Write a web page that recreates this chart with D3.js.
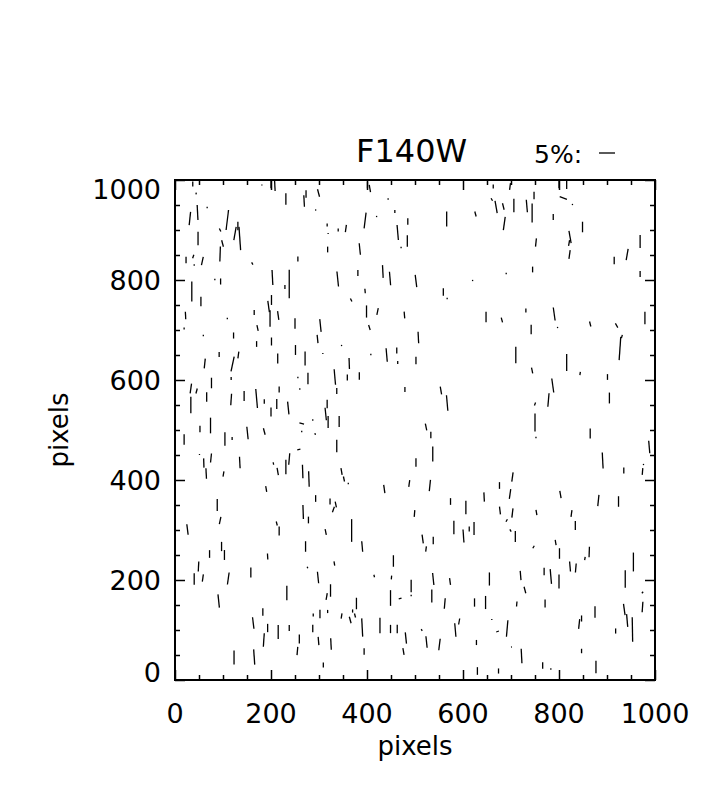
<html>
<head>
	<meta charset="utf-8">
	<title>F140W</title>
	<script src="https://cdn.jsdelivr.net/npm/d3@7/dist/d3.min.js"></script>
</head>
<style>
	body { margin: 0; background: #ffffff; }
	text { font-family: "DejaVu Sans", sans-serif; fill: black; }
	.frame { fill: none; stroke: black; stroke-width: 2; }
	.axis path { display: none; }
	.axis line { stroke: black; stroke-width: 1.5; }
	.vec { stroke: black; stroke-width: 1.3; stroke-linecap: butt; }
</style>
<body>
<script>
	// tick values / labels
	var xTickValues = [0, 200, 400, 600, 800, 1000];
	var yTickValues = [0, 200, 400, 600, 800, 1000];
	var minorTickValues = d3.range(0, 1001, 50);
	var titleText = "F140W";
	var legendText = "5%:";
	var legendPercent = 5;
	var xLabel = "pixels";
	var yLabel = "pixels";

	// vectors: [x pixel, y pixel, polarisation %, angle deg (+ = top leans right)]
	var vecTopLeft = [
		[37,992,1.6,0],[44,973,0.6,10],[181,990,0.3,0],[200,992,2.6,0],[208,989,3.4,-3],
		[231,962,3.6,0],[269,958,3.6,-3],[273,972,2.4,0],[299,974,2.4,-15],[401,990,2.1,0],
		[406,983,2.3,-10],[444,962,0.4,0],[31,923,4.2,6],[47,935,4.7,-3],[67,945,0.4,0],
		[109,920,6.3,7],[94,900,1.1,-25],[99,873,2.1,-15],[125,893,4.2,10],[131,908,2.6,0],
		[135,883,7.3,-4],[48,883,4.2,0],[94,852,4.7,2],[23,840,2.1,0],[38,847,1.1,20],
		[40,830,0.4,0],[57,838,2.7,12],[161,833,0.8,-30],[256,842,1.6,0],[293,940,0.4,0],
		[317,910,1.0,0],[319,893,0.3,0],[340,900,1.0,0],[356,903,2.3,8],[396,919,5.0,7],
		[420,927,0.4,0],[458,937,1.0,0],[464,895,4.7,-5],[485,917,2.1,0],[484,878,3.6,0],
		[471,865,0.4,0],[318,861,1.8,0],[385,862,3.6,-6],[203,805,4.7,-3],[238,792,8.9,0],
		[229,786,1.3,0],[83,801,0.4,0],[95,797,1.9,0],[35,777,6.3,0],[54,757,2.9,0],
		[339,802,4.7,-6],[381,814,1.9,0],[433,817,4.0,-3],[448,803,4.2,-5],[502,798,3.9,-7],
		[396,778,1.4,-5],[367,760,1.1,-25],[201,760,3.1,0],[195,747,3.5,-8],[198,723,5.2,0],
		[165,735,1.6,0],[215,729,2.8,-8],[250,713,3.3,0],[303,709,4.0,-6],[399,737,3.8,0],
		[422,737,2.1,12],[405,705,1.6,-18],[478,730,2.1,-5],[22,729,2.3,-3],[19,703,0.6,0],
		[109,723,0.4,0],[59,689,0.4,0],[122,689,1.9,0],[172,704,1.9,-12],[170,672,1.8,0],
		[201,677,2.5,0],[297,682,2.6,-6],[347,669,0.4,0],[507,685,3.6,-3],[251,660,3.1,0],
		[271,643,4.4,0],[214,643,3.1,0],[92,651,1.6,0],[132,650,2.1,8],[120,632,4.7,12],
		[62,633,3.1,6],[308,653,0.3,0],[363,633,3.5,-2],[408,651,0.4,0],[441,650,4.2,-5],
		[462,659,1.8,0],[464,635,1.0,0],[502,639,2.4,0],[117,603,1.0,0],[76,594,3.3,0],
		[33,583,3.1,8],[45,578,1.6,15],[66,566,2.9,0],[117,561,3.6,4],[144,568,3.1,0],
		[170,563,6.0,-5],[186,557,1.4,0],[200,536,2.8,0],[212,552,3.2,0],[217,581,1.8,0],
		[236,544,4.0,-6],[256,605,0.4,0],[260,582,0.4,0],[277,603,3.6,0],[333,606,4.9,-5],
		[337,578,1.8,0],[359,605,1.9,0],[384,608,2.4,0],[479,581,1.5,0],[33,550,5.2,0],
		[317,552,2.6,0],[314,532,3.9,-6],[319,516,3.8,0],[342,517,3.4,0],[264,513,1.5,-75],
		[287,520,0.4,0],[74,509,4.9,0]
	];
	var vecTopRight = [
		[663,987,1.3,0],[698,987,2.1,8],[748,969,2.3,0],[800,992,2.6,0],[816,991,2.8,0],
		[809,964,2.4,-70],[828,951,0.4,0],[660,961,0.9,-30],[669,946,3.9,-10],[684,947,2.1,-14],
		[706,949,4.2,0],[733,948,3.9,-5],[744,934,5.9,0],[566,922,4.7,0],[626,932,1.6,-15],
		[686,913,4.2,8],[788,926,1.9,0],[849,906,3.3,0],[752,875,2.6,6],[823,886,3.9,-10],
		[821,874,1.8,10],[822,851,2.8,8],[969,877,4.0,0],[942,851,3.5,10],[915,839,2.4,0],
		[969,812,1.8,0],[745,821,1.8,0],[690,813,0.4,0],[620,799,0.4,0],[559,776,2.3,0],
		[567,763,0.4,0],[648,726,3.3,0],[681,720,1.5,-15],[731,739,1.3,0],[790,732,4.1,-8],
		[797,705,0.4,0],[742,701,2.9,0],[865,712,1.6,-15],[920,709,1.5,-30],[931,687,1.1,15],
		[927,663,7.3,4],[979,724,3.9,0],[710,650,5.2,0],[816,635,5.3,0],[744,619,1.8,-12],
		[844,613,1.0,8],[901,606,1.8,0],[787,589,4.4,-8],[778,560,4.2,5],[750,552,1.0,20],
		[905,564,3.4,0],[554,579,2.4,-10],[567,554,4.9,-5],[750,515,5.7,0],[523,506,2.1,-12]
	];
	var vecBottomLeft = [
		[52,502,2.0,0],[151,494,3.9,-6],[186,497,2.1,-15],[264,497,0.4,0],[292,492,0.6,-15],
		[19,481,3.3,0],[104,482,4.2,0],[119,483,1.0,0],[337,468,3.9,0],[258,461,1.0,80],
		[51,451,0.3,0],[60,434,2.9,-2],[65,413,3.3,-3],[75,444,2.8,6],[135,435,3.6,-3],
		[101,412,1.6,10],[205,433,0.8,-10],[214,417,2.3,-10],[231,426,4.5,0],[238,442,3.6,5],
		[266,417,4.2,-2],[279,402,4.9,-2],[347,417,2.1,-10],[352,402,1.6,-12],[361,393,0.4,0],
		[190,382,1.8,-10],[293,363,2.1,0],[323,357,1.9,0],[335,351,1.8,-12],[330,341,1.8,20],
		[88,350,3.8,0],[94,319,2.3,12],[267,336,4.4,-2],[278,320,2.1,0],[368,299,7.1,0],
		[436,382,2.6,-8],[488,393,2.1,8],[499,333,2.1,5],[502,435,2.6,0],[26,301,3.3,-7],
		[212,313,1.3,-15],[217,298,2.8,0],[314,296,1.8,-12],[272,267,3.3,0],[390,267,3.3,-5],
		[97,267,2.9,0],[103,250,3.1,0],[72,252,2.4,0],[193,247,1.9,-3],[158,215,3.1,0],
		[111,203,3.8,8],[49,227,3.1,3],[40,202,3.6,0],[58,204,2.3,8],[276,225,0.5,-20],
		[332,233,1.3,-10],[298,205,3.6,-6],[455,238,3.6,0],[415,208,0.8,-15],[451,205,1.2,5],
		[492,188,3.9,0],[492,169,0.4,0],[469,163,0.9,75],[449,164,4.9,0],[91,158,4.2,-6],
		[233,174,4.5,0],[316,167,2.1,10],[324,179,3.9,0],[378,153,3.6,0],[183,136,2.3,0],
		[163,114,3.6,-7],[193,104,2.6,0],[185,80,4.2,4],[215,96,4.4,0],[238,104,1.9,0],
		[288,130,1.0,0],[302,132,2.6,0],[318,137,1.0,0],[287,103,2.3,0],[259,82,2.8,0],
		[255,58,2.6,5],[299,78,2.6,-5],[325,72,3.6,-3],[347,128,1.6,10],[365,120,2.1,-15],
		[370,138,1.0,0],[375,129,1.3,-15],[390,105,5.7,-3],[427,109,4.9,0],[449,102,2.6,0],
		[463,102,2.6,0],[481,84,3.5,-6],[394,57,2.1,0],[476,57,2.1,-10],[123,45,4.3,0],
		[165,46,4.8,-4],[309,30,1.5,0]
	];
	var vecBottomRight = [
		[533,490,2.1,0],[537,452,4.7,0],[752,485,0.4,0],[865,493,3.1,0],[988,466,3.9,-5],
		[891,439,5.0,-3],[935,419,1.8,0],[974,417,2.1,5],[976,431,0.4,0],[703,406,2.9,8],
		[698,372,3.1,8],[676,389,2.1,0],[644,366,2.9,-3],[531,389,3.5,6],[574,357,2.1,0],
		[606,345,4.2,0],[677,339,2.4,-7],[703,334,2.9,7],[691,319,0.9,30],[753,335,1.6,-10],
		[803,371,2.3,-10],[826,333,2.1,8],[834,309,2.8,0],[882,359,3.5,6],[924,357,3.3,0],
		[581,305,4.2,0],[601,288,4.1,-4],[613,302,1.6,0],[623,303,4.0,0],[516,282,2.8,-8],
		[523,262,1.6,8],[538,279,2.4,0],[699,299,0.8,-30],[709,287,3.5,0],[747,266,0.9,30],
		[793,275,1.6,-10],[801,253,3.3,0],[854,243,1.0,10],[863,256,3.3,2],[823,227,3.1,-5],
		[835,224,2.8,5],[955,236,5.9,0],[938,202,5.5,0],[769,217,2.3,0],[783,207,4.6,-5],
		[800,197,4.4,0],[720,209,2.9,-5],[729,180,2.1,-15],[538,202,3.8,-6],[573,197,2.1,-8],
		[655,202,4.1,0],[535,168,4.1,0],[562,153,3.3,5],[624,155,2.6,0],[647,155,4.1,0],
		[712,152,1.6,5],[771,153,2.5,0],[974,175,0.6,40],[974,146,3.3,4],[875,136,3.6,0],
		[936,141,3.5,-8],[942,119,4.0,-5],[953,101,7.6,-1],[842,112,3.1,6],[847,123,1.9,0],
		[918,98,1.6,0],[692,103,5.2,5],[672,97,0.9,70],[660,121,0.3,0],[584,100,4.2,-5],
		[592,117,1.9,10],[514,100,0.6,-30],[524,76,3.6,-6],[551,71,3.6,7],[628,75,1.6,0],
		[701,66,0.3,80],[722,48,4.5,-3],[847,58,1.4,0],[766,29,2.1,0],[783,22,0.4,0],
		[630,18,2.4,0],[674,18,1.6,0],[877,26,3.9,0]
	];

	var width = 707;
	var height = 785;
	var plot = {left:175, right:655, top:180, bottom:680};

	var svg = d3.select("body")
		.append("svg")
		.attr("width", width)
		.attr("height", height);

	var x = d3.scaleLinear().domain([0, 1000]).range([plot.left, plot.right]);
	var y = d3.scaleLinear().domain([0, 1000]).range([plot.bottom, plot.top]);
	var len = d3.scaleLinear().domain([0, 5]).range([0, 16]);

	// ticks, all pointing inward, on all four sides
	function ticks(axisFn, pos, vals, size) {
		svg.append("g")
			.attr("class", "axis")
			.attr("transform", pos)
			.call(axisFn.tickValues(vals).tickSizeInner(size).tickSizeOuter(0).tickFormat(""));
	}
	var minorOnly = minorTickValues.filter(function(v){ return xTickValues.indexOf(v) < 0; });
	ticks(d3.axisBottom(x), "translate(0," + plot.bottom + ")", xTickValues, -10);
	ticks(d3.axisBottom(x), "translate(0," + plot.bottom + ")", minorOnly, -5);
	ticks(d3.axisTop(x), "translate(0," + plot.top + ")", xTickValues, -10);
	ticks(d3.axisTop(x), "translate(0," + plot.top + ")", minorOnly, -5);
	ticks(d3.axisLeft(y), "translate(" + plot.left + ",0)", yTickValues, -10);
	ticks(d3.axisLeft(y), "translate(" + plot.left + ",0)", minorOnly, -5);
	ticks(d3.axisRight(y), "translate(" + plot.right + ",0)", yTickValues, -10);
	ticks(d3.axisRight(y), "translate(" + plot.right + ",0)", minorOnly, -5);

	svg.append("rect")
		.attr("class", "frame")
		.attr("x", plot.left)
		.attr("y", plot.top)
		.attr("width", plot.right - plot.left)
		.attr("height", plot.bottom - plot.top);

	// tick labels
	svg.selectAll(".xlab")
		.data(xTickValues)
		.enter()
		.append("text")
		.attr("class", "xlab")
		.attr("x", function(d){ return x(d); })
		.attr("y", 723)
		.attr("font-size", 27)
		.attr("text-anchor", "middle")
		.text(function(d){ return d; });
	svg.selectAll(".ylab")
		.data(yTickValues)
		.enter()
		.append("text")
		.attr("class", "ylab")
		.attr("x", 161)
		.attr("y", function(d){
			var c = Math.min(Math.max(y(d), plot.top + 9), plot.bottom - 8);
			return c + 10;
		})
		.attr("font-size", 27)
		.attr("text-anchor", "end")
		.text(function(d){ return d; });

	svg.append("text")
		.attr("x", (plot.left + plot.right) / 2)
		.attr("y", 755)
		.attr("font-size", 26)
		.attr("text-anchor", "middle")
		.text(xLabel);
	svg.append("text")
		.attr("transform", "translate(68," + ((plot.top + plot.bottom) / 2) + ") rotate(-90)")
		.attr("font-size", 26)
		.attr("text-anchor", "middle")
		.text(yLabel);

	// title and scale legend
	svg.append("text")
		.attr("x", 356)
		.attr("y", 162)
		.attr("font-size", 32)
		.text(titleText);
	svg.append("text")
		.attr("x", 534)
		.attr("y", 163)
		.attr("font-size", 25)
		.text(legendText);
	svg.append("line")
		.attr("class", "vec")
		.attr("x1", 599)
		.attr("x2", 599 + len(legendPercent))
		.attr("y1", 153)
		.attr("y2", 153)
		.attr("stroke-width", 1.6);

	// polarisation vectors
	var vectors = vecTopLeft.concat(vecTopRight, vecBottomLeft, vecBottomRight);
	svg.append("g")
		.selectAll("line")
		.data(vectors)
		.enter()
		.append("line")
		.attr("class", "vec")
		.each(function(d){
			var h = len(d[2]) / 2;
			var r = d[3] * Math.PI / 180;
			var cx = x(d[0]), cy = y(d[1]);
			d3.select(this)
				.attr("x1", cx - h * Math.sin(r))
				.attr("y1", cy + h * Math.cos(r))
				.attr("x2", cx + h * Math.sin(r))
				.attr("y2", cy - h * Math.cos(r));
		});
</script>
</body>
</html>
